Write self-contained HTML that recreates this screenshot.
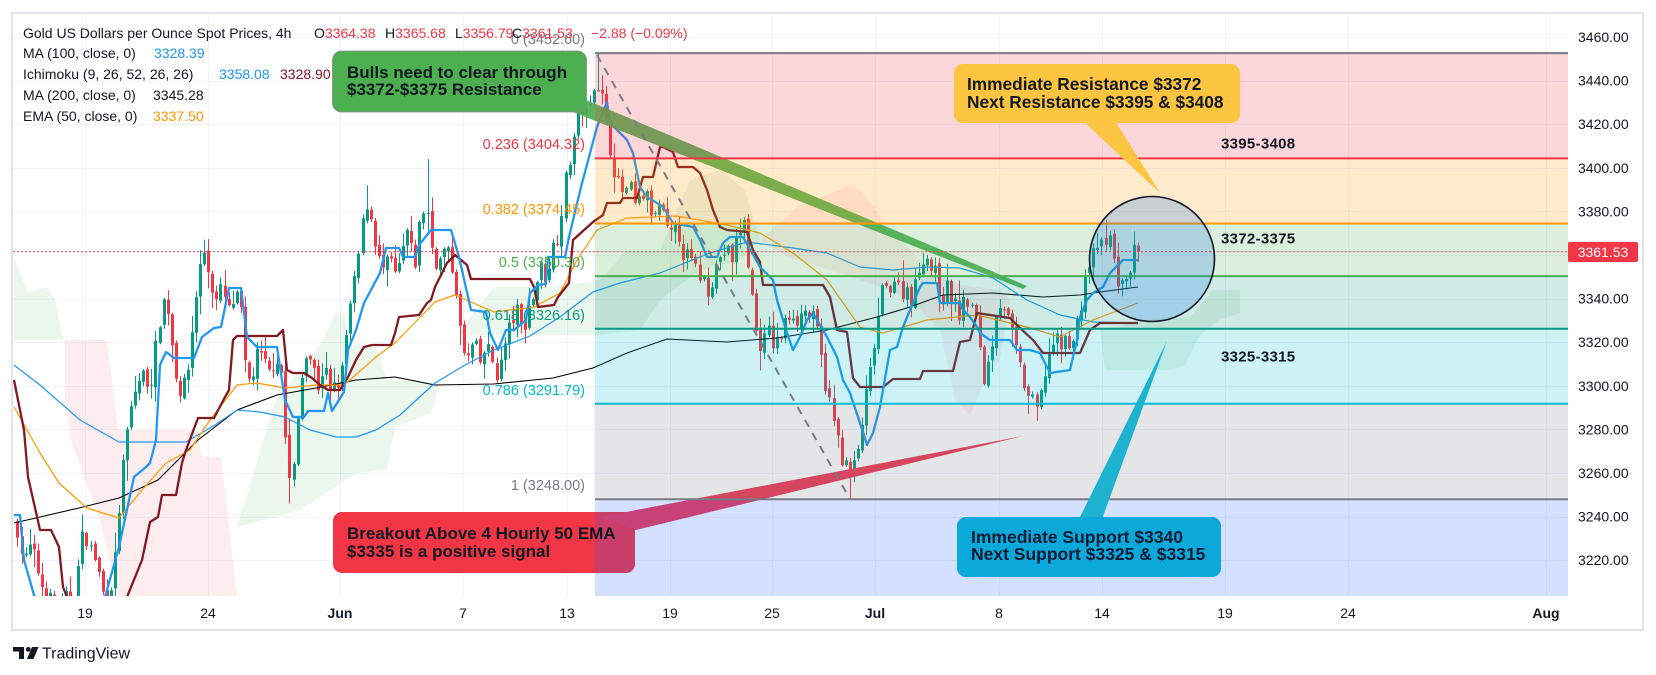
<!DOCTYPE html>
<html><head><meta charset="utf-8">
<style>
html,body{margin:0;padding:0;background:#fff;}
svg{display:block;font-family:"Liberation Sans",Arial,sans-serif;}
</style></head><body>
<svg id="c" width="1656" height="675" viewBox="0 0 1656 675" xmlns="http://www.w3.org/2000/svg">
<defs><clipPath id="pc"><rect x="13" y="14" width="1555" height="582"/></clipPath></defs>
<rect width="1656" height="675" fill="#fff"/>
<g id="grid" stroke="#f0f3fa" stroke-width="1"></g>
<g clip-path="url(#pc)">
  <g id="clouds" stroke="none">
    <polygon fill="rgba(76,175,80,0.11)" points="14,257 28,293 47,287 55,300 63,340 14,340"/>
    <polygon fill="rgba(242,54,69,0.09)" points="65,340 107,340 112,380 118,430 178,430 194,430 202,457 221,457 237,597 118,597 100,520 71,440 65,400"/>
    <polygon fill="rgba(76,175,80,0.11)" points="237,527 269,423 277,397 300,370 320,345 336,313 344,313 350,345 376,347 387,380 440,383 431,413 395,427 387,470 356,473 300,510"/>
    <polygon fill="rgba(76,175,80,0.11)" points="460,330 494,287 553,287 600,280 627,250 660,250 690,180 720,170 745,190 760,240 740,260 700,270 660,300 640,330 600,335 460,335"/>
    <polygon fill="rgba(242,54,69,0.08)" points="760,240 800,205 840,190 850,185 860,190 880,215 900,240 930,270 960,285 1000,290 1010,300 1000,360 985,380 970,415 955,400 940,330 920,310 890,290 860,280 830,270 790,258"/>
    <polygon fill="rgba(76,175,80,0.11)" points="1100,330 1150,320 1190,317 1213,290 1240,290 1240,313 1220,320 1200,335 1185,365 1170,370 1105,370"/>
  </g>
  <g id="candles"></g>
  <g id="lines" fill="none" stroke-linejoin="round"></g>
  <rect x="333" y="512" width="302" height="61" rx="9" fill="#f23645"/>
  <polygon points="600,517 1023,436 636,530" fill="#ee3a55"/>
  <polygon points="560,89 1027,286 1023,289 560,107" fill="#4caf50" opacity="0.92"/>
  <g id="bands"></g>
  <line x1="597" y1="55" x2="850" y2="499" stroke="#787b86" stroke-width="2" stroke-dasharray="8 7"/>
  <line x1="13" y1="251.7" x2="1568" y2="251.7" stroke="#f23645" stroke-width="1" stroke-dasharray="2 2"/>
</g>

<!-- green box -->
<rect x="332.5" y="51" width="254" height="61" rx="9" fill="#4caf50" stroke="#8a8f8a" stroke-width="0.8"/>
<text font-size="17" font-weight="bold" fill="#131722" dominant-baseline="central"><tspan x="347" y="72">Bulls need to clear through</tspan><tspan x="347" y="89">$3372-$3375 Resistance</tspan></text>
<!-- red box text -->
<text font-size="17" font-weight="bold" fill="#131722" dominant-baseline="central"><tspan x="347" y="533">Breakout Above 4 Hourly 50 EMA</tspan><tspan x="347" y="551">$3335 is a positive signal</tspan></text>

<!-- circle -->
<circle cx="1152" cy="259" r="62.5" fill="rgba(30,120,230,0.24)" stroke="#131722" stroke-width="1.6"/>

<!-- yellow box -->
<polygon points="1083,121 1115,121 1160,193" fill="#fbc541"/>
<rect x="954" y="64" width="286" height="59" rx="9" fill="#fbc541"/>
<text font-size="17.3" font-weight="bold" fill="#131722" dominant-baseline="central"><tspan x="967" y="84">Immediate Resistance $3372</tspan><tspan x="967" y="102">Next Resistance $3395 &amp; $3408</tspan></text>

<!-- blue box -->
<polygon points="1079,519 1102,519 1167,341" fill="#1db3d0"/>
<rect x="957" y="517" width="264" height="60" rx="9" fill="#0aa9da"/>
<text font-size="17.5" font-weight="bold" fill="#0f1a33" dominant-baseline="central"><tspan x="971" y="537">Immediate Support $3340</tspan><tspan x="971" y="554">Next Support $3325 &amp; $3315</tspan></text>

<!-- band labels -->
<g font-size="15" font-weight="bold" fill="#131722" dominant-baseline="central" letter-spacing="0.3">
  <text x="1221" y="144">3395-3408</text>
  <text x="1221" y="239">3372-3375</text>
  <text x="1221" y="357">3325-3315</text>
</g>

<!-- fib labels -->
<g font-size="14.5" text-anchor="end" dominant-baseline="central">
  <text x="585" y="40" fill="#787b86">0 (3452.60)</text>
  <text x="585" y="145" fill="#f23645">0.236 (3404.32)</text>
  <text x="585" y="210" fill="#ff9800">0.382 (3374.45)</text>
  <text x="585" y="263" fill="#4caf50">0.5 (3350.30)</text>
  <text x="585" y="316" fill="#089981">0.618 (3326.16)</text>
  <text x="585" y="391" fill="#00bcd4">0.786 (3291.79)</text>
  <text x="585" y="486" fill="#787b86">1 (3248.00)</text>
</g>

<!-- legend -->
<g font-size="14" fill="#131722" dominant-baseline="central">
  <text x="23" y="33">Gold US Dollars per Ounce Spot Prices, 4h</text>
  <text x="314" y="33">O<tspan fill="#f23645">3364.38</tspan></text>
  <text x="385" y="33">H<tspan fill="#f23645">3365.68</tspan></text>
  <text x="455" y="33">L<tspan fill="#f23645">3356.79</tspan></text>
  <text x="512" y="33">C<tspan fill="#f23645">3361.53</tspan></text>
  <text x="591" y="33" fill="#f23645">−2.88 (−0.09%)</text>
  <text x="23" y="53">MA (100, close, 0)</text>
  <text x="154" y="53" fill="#2196f3">3328.39</text>
  <text x="23" y="74">Ichimoku (9, 26, 52, 26, 26)</text>
  <text x="219" y="74" fill="#2196f3">3358.08</text>
  <text x="280" y="74" fill="#801922">3328.90</text>
  <text x="23" y="95">MA (200, close, 0)</text>
  <text x="153" y="95" fill="#131722">3345.28</text>
  <text x="23" y="116">EMA (50, close, 0)</text>
  <text x="153" y="116" fill="#ff9800">3337.50</text>
</g>

<!-- price axis -->
<g id="paxis" font-size="14" fill="#131722" dominant-baseline="central"></g>
<rect x="1568" y="242" width="70" height="20" rx="2" fill="#f23645"/>
<text x="1603" y="252" font-size="14" fill="#fff" text-anchor="middle" dominant-baseline="central">3361.53</text>

<!-- time axis -->
<g font-size="14" fill="#131722" text-anchor="middle" dominant-baseline="central">
  <text x="85" y="613">19</text>
  <text x="208" y="613">24</text>
  <text x="340" y="613" font-weight="bold">Jun</text>
  <text x="463" y="613">7</text>
  <text x="567" y="613">13</text>
  <text x="670" y="613">19</text>
  <text x="772" y="613">25</text>
  <text x="875" y="613" font-weight="bold">Jul</text>
  <text x="999" y="613">8</text>
  <text x="1102" y="613">14</text>
  <text x="1225" y="613">19</text>
  <text x="1348" y="613">24</text>
  <text x="1546" y="613" font-weight="bold">Aug</text>
</g>

<!-- outer border -->
<rect x="12" y="13" width="1631" height="617" fill="none" stroke="#e0e3eb" stroke-width="2"/>

<!-- TradingView logo -->
<path d="M13 647 H24 V659 H19 V651.5 H13 Z" fill="#131722"/>
<circle cx="28.3" cy="649.4" r="2.4" fill="#131722"/>
<path d="M32 647 H38.5 L33.5 659 H27 Z" fill="#131722"/>
<text x="42" y="654" font-size="16" fill="#131722" dominant-baseline="central">TradingView</text>
</svg>

<script>
(function(){
var NS="http://www.w3.org/2000/svg";
function el(tag,attrs,parent){var e=document.createElementNS(NS,tag);for(var k in attrs)e.setAttribute(k,attrs[k]);parent.appendChild(e);return e;}
var Y=function(p){return 37+(3460-p)*2.18;};

var grid=document.getElementById('grid');
for(var p=3220;p<=3460;p+=20){var y=Math.round(Y(p))+0.5;el('line',{x1:13,y1:y,x2:1568,y2:y},grid);}
[85,208,340,463,567,670,772,875,999,1102,1225,1348,1546].forEach(function(x){el('line',{x1:x+0.5,y1:14,x2:x+0.5,y2:596},grid);});

var pa=document.getElementById('paxis');
for(var p2=3460;p2>=3220;p2-=20){var t=el('text',{x:1578,y:Y(p2).toFixed(1)},pa);t.textContent=p2.toFixed(2);}

var wp=[[17,3236],[24,3218],[30,3226],[36,3218],[42,3208],[48,3203],[54,3198],[60,3196],[66,3202],[72,3200],[78,3215],[84,3235],[90,3225],[96,3220],[102,3205],[108,3205],[114,3215],[120,3250],[126,3275],[132,3292],[138,3302],[144,3305],[150,3300],[156,3318],[162,3340],[168,3335],[174,3310],[180,3298],[186,3300],[192,3325],[198,3350],[204,3362],[210,3350],[216,3338],[222,3345],[228,3333],[234,3340],[240,3338],[246,3300],[252,3305],[258,3315],[264,3310],[270,3305],[276,3315],[282,3305],[288,3255],[294,3262],[300,3300],[306,3318],[312,3310],[318,3300],[324,3310],[330,3296],[336,3300],[342,3305],[348,3330],[354,3345],[360,3365],[366,3385],[372,3375],[378,3358],[384,3352],[390,3358],[396,3348],[402,3360],[408,3372],[414,3352],[420,3375],[426,3385],[432,3362],[438,3355],[444,3362],[450,3358],[456,3345],[462,3315],[468,3312],[474,3320],[480,3310],[486,3318],[492,3312],[498,3304],[504,3318],[510,3328],[516,3335],[522,3325],[528,3335],[534,3342],[540,3355],[546,3350],[552,3362],[558,3370],[564,3390],[570,3405],[576,3420],[582,3428],[588,3422],[594,3440],[600,3438],[606,3420],[612,3405],[618,3392],[624,3388],[630,3390],[636,3380],[642,3388],[648,3385],[654,3375],[660,3385],[666,3370],[672,3368],[678,3372],[684,3360],[690,3358],[696,3352],[702,3350],[708,3345],[714,3352],[720,3360],[726,3362],[732,3358],[738,3370],[744,3375],[750,3350],[756,3325],[762,3318],[768,3325],[774,3318],[780,3322],[786,3330],[792,3335],[798,3330],[804,3335],[810,3332],[816,3328],[822,3310],[828,3295],[834,3282],[840,3270],[846,3262],[852,3260],[858,3270],[864,3290],[870,3305],[876,3325],[882,3342],[888,3345],[894,3350],[900,3343],[906,3345],[912,3340],[918,3352],[924,3362],[930,3355],[936,3350],[942,3340],[948,3345],[954,3338],[960,3332],[966,3340],[972,3335],[978,3325],[984,3302],[990,3315],[996,3335],[1002,3340],[1008,3330],[1014,3320],[1020,3308],[1026,3298],[1032,3292],[1038,3288],[1044,3305],[1050,3318],[1056,3320],[1062,3318],[1068,3322],[1074,3320],[1080,3335],[1086,3352],[1092,3358],[1098,3365],[1104,3362],[1110,3368],[1116,3350],[1122,3345],[1128,3352],[1134,3362],[1138,3361.53]];
function P(x){if(x<=wp[0][0])return wp[0][1];for(var i=1;i<wp.length;i++){if(x<=wp[i][0]){var a=wp[i-1],b=wp[i];return a[1]+(b[1]-a[1])*(x-a[0])/(b[0]-a[0]);}}return wp[wp.length-1][1];}
var sd=7;function R(){sd=(sd*16807)%2147483647;return sd/2147483647;}
var N=277,S=4.06,LX=1138,bars=[],pc=P(LX-(N-1)*S)+2;
for(var i=0;i<N;i++){
  var x=LX-(N-1-i)*S;
  var c=P(x)+(R()-0.5)*9;
  var o=pc+(R()-0.5)*2.5;
  var h=Math.max(o,c)+R()*R()*9+0.6, l=Math.min(o,c)-R()*R()*9-0.6;
  if(i==N-1){o=3364.38;c=3361.53;h=3365.68;l=3356.79;}
  bars.push({x:x,o:o,h:h,l:l,c:c});pc=c;
}
function force(x,k,v){var best=0,bd=1e9;bars.forEach(function(b,j){var d=Math.abs(b.x-x);if(d<bd){bd=d;best=j;}});bars[best][k]=v;
  var b=bars[best];b.h=Math.max(b.h,b.o,b.c);b.l=Math.min(b.l,b.o,b.c);}
force(597,'h',3452.6);force(850,'l',3248);force(290,'l',3246);force(426,'h',3404);force(366,'h',3392);force(204,'h',3367);force(60,'l',3192);force(1106,'h',3376);force(1038,'l',3284);
var cg=document.getElementById('candles');
bars.forEach(function(b){
  var col=b.c>=b.o?'#089981':'#f23645';
  var xr=Math.round(b.x);
  el('line',{x1:xr+0.5,y1:Y(b.h).toFixed(1),x2:xr+0.5,y2:Y(b.l).toFixed(1),stroke:col,'stroke-width':1},cg);
  var yt=Y(Math.max(b.o,b.c)),hh=Math.max(1,Math.abs(Y(b.o)-Y(b.c)));
  el('rect',{x:xr-1,y:yt.toFixed(1),width:3,height:hh.toFixed(1),fill:col},cg);
});

var lg=document.getElementById('lines');
var L=[
 ["#000000",1.1,"14,523 79,508 119,498 158,480 198,440 237,410 277,395 316,388 356,380 395,377 435,385 494,384 553,378 593,368 627,353 667,339 727,342 777,338 827,330 877,317 910,307 943,295 993,293 1043,297 1080,295 1100,292 1138,287"],
 ["#2196f3",1.2,"14,365 40,385 80,420 119,442 186,442 215,425 237,410 260,412 285,417 310,430 336,437 356,437 376,430 400,415 435,383 465,365 494,350 530,336 560,317 593,292 620,283 660,273 710,253 747,242 793,248 827,253 860,267 893,270 927,267 960,268 993,278 1027,300 1060,315 1093,322 1138,323"],
 ["#ff9800",1.2,"14,407 40,453 59,483 87,508 119,518 142,490 166,463 190,450 210,420 237,385 257,383 285,388 316,385 344,385 376,357 395,343 435,302 455,295 494,312 534,307 560,293 577,260 597,230 627,218 677,216 727,225 760,233 793,253 827,280 860,327 883,333 927,320 977,315 1027,327 1060,337 1093,320 1138,303"],
 ["#801922",2.3,"14,380 24,430 28,477 40,530 51,530 59,547 63,587 69,602 125,602 127,597 142,560 150,522 158,517 162,495 176,495 182,463 186,450 198,418 214,418 225,397 229,390 233,340 237,336 277,336 283,330 287,370 293,373 304,373 312,378 320,385 328,390 340,390 348,377 356,360 364,347 372,345 391,345 395,333 399,317 419,315 427,303 431,300 435,287 447,263 455,255 467,265 471,279 530,279 534,287 538,307 554,305 558,297 569,283 573,240 593,222 603,215 607,203 620,203 623,198 637,198 643,177 653,177 660,147 663,147 673,152 678,167 693,167 700,173 707,190 713,210 720,227 727,230 747,232 753,250 760,262 763,285 823,285 830,297 837,330 847,332 853,378 860,387 883,387 893,379 920,379 923,371 953,371 960,342 970,340 977,313 1003,317 1010,318 1020,328 1033,340 1043,353 1080,353 1090,330 1100,323 1138,323"],
 ["#2196f3",2.3,"14,515 20,515 24,560 36,602 100,602 105,597 119,547 134,477 146,467 150,463 156,440 160,365 166,352 174,358 194,358 202,337 214,328 221,327 229,288 241,288 247,337 257,347 277,347 285,400 293,417 304,417 308,411 324,411 328,393 332,411 344,392 348,350 356,330 364,303 380,273 386,248 399,248 403,257 415,257 419,245 431,230 451,230 459,257 471,310 486,312 490,333 498,350 506,330 514,330 526,320 530,293 538,285 546,284 548,257 565,257 569,237 581,187 589,157 597,127 607,102 610,123 620,133 627,140 633,153 640,187 647,197 657,203 663,207 673,223 693,227 700,240 707,257 717,257 723,243 730,237 743,237 760,267 773,280 777,300 787,333 793,350 800,337 807,320 813,313 827,337 837,357 843,380 850,393 860,423 867,445 873,433 880,407 890,350 897,347 903,327 910,310 920,287 923,283 937,283 940,303 960,303 963,310 970,317 977,327 980,333 990,340 1010,340 1017,350 1030,350 1040,353 1050,373 1070,370 1077,340 1080,317 1087,300 1093,293 1103,287 1110,273 1123,260 1138,260"]
];
L.forEach(function(a){el('polyline',{points:a[2],stroke:a[0],'stroke-width':a[1],fill:'none'},lg);});

var bg=document.getElementById('bands');
var lv=[3452.6,3404.32,3374.45,3350.3,3326.16,3291.79,3248.0];
var fills=['rgba(242,54,69,0.2)','rgba(255,152,0,0.2)','rgba(76,175,80,0.2)','rgba(8,153,129,0.2)','rgba(0,188,212,0.2)','rgba(120,123,134,0.2)','rgba(41,98,255,0.2)'];
var strokes=['#787b86','#f23645','#ff9800','#4caf50','#089981','#00bcd4','#787b86'];
for(var k=0;k<7;k++){
  var y1=Y(lv[k]),y2=(k<6)?Y(lv[k+1]):597;
  el('rect',{x:595,y:y1.toFixed(1),width:973,height:(y2-y1).toFixed(1),fill:fills[k]},bg);
}
for(var m=0;m<7;m++){var yy=Y(lv[m]);el('line',{x1:595,y1:yy.toFixed(1),x2:1568,y2:yy.toFixed(1),stroke:strokes[m],'stroke-width':2},bg);}
})();
</script>
</body></html>
